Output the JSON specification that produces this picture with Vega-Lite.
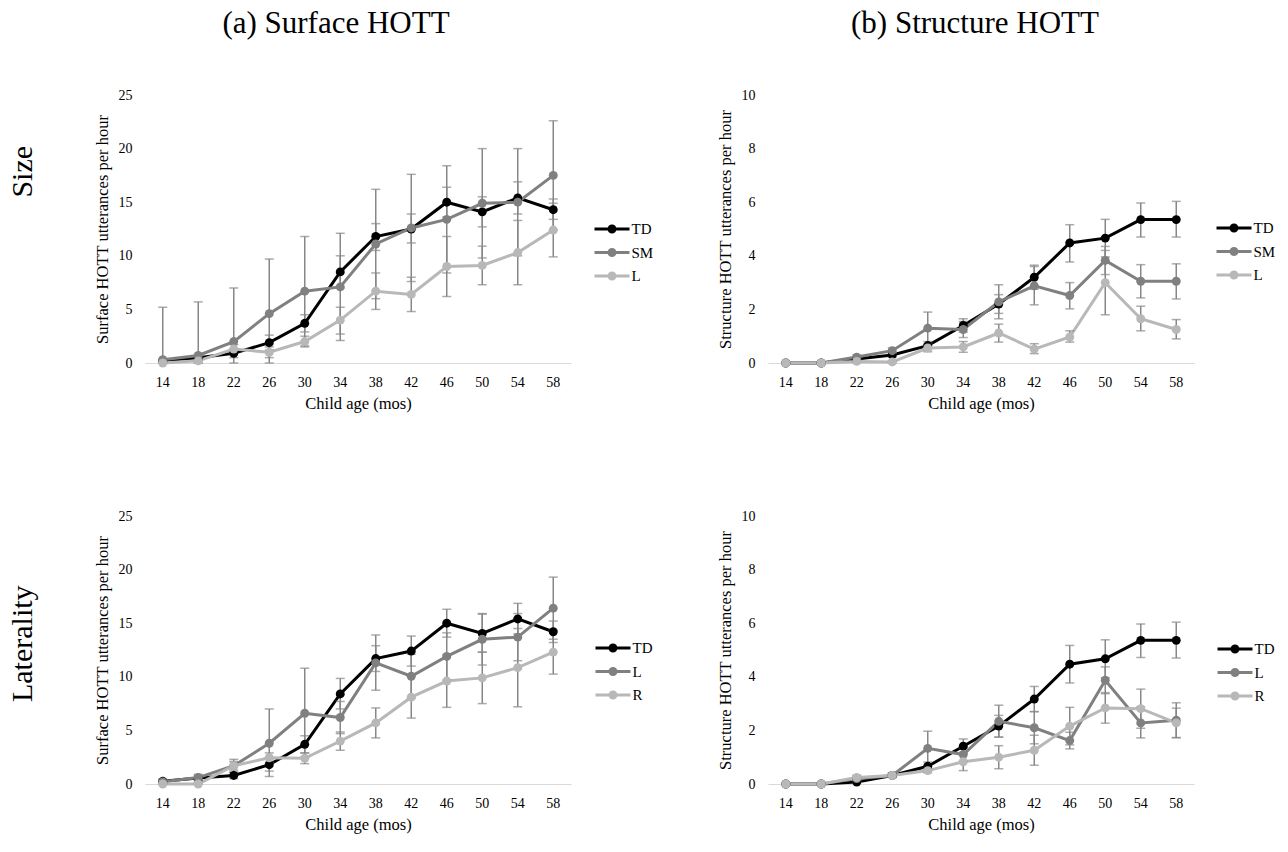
{
  "$schema": "https://vega.github.io/schema/vega-lite/v6.json",
  "padding": {"left": 8, "top": 8, "right": 5, "bottom": 5},
  "background": "white",
  "config": {
    "font": "Liberation Serif",
    "view": {"stroke": null},
    "axis": {"labelFont": "Liberation Serif", "titleFont": "Liberation Serif", "labelColor": "#000000", "titleColor": "#000000", "titleFontWeight": "normal", "grid": false, "ticks": false, "labelFontSize": 14, "titleFontSize": 16.5},
    "axisX": {"domainColor": "#d9d9d9", "domainWidth": 1, "labelAngle": 0, "labelPadding": 12, "titlePadding": 6},
    "axisY": {"domain": false, "labelPadding": 13, "titlePadding": 8},
    "legend": {"labelFont": "Liberation Serif", "labelFontSize": 15, "labelColor": "#000000", "symbolType": "M-1.75,-0.15H1.75V0.15H-1.75Z M0.45,0A0.45,0.45,0,1,1,-0.45,0A0.45,0.45,0,1,1,0.45,0Z", "symbolSize": 400, "symbolStrokeWidth": 0, "symbolOpacity": 1, "labelOffset": 9.5, "rowPadding": 5.5, "padding": 0},
    "title": {"font": "Liberation Serif", "fontWeight": "normal", "color": "#000000", "fontSize": 31}
  },
  "data": {"values": [
    {"panel":"A","group":"TD","age":14,"value":0.2,"lo":0.0,"hi":0.4},
    {"panel":"A","group":"TD","age":18,"value":0.5,"lo":0.2,"hi":0.8},
    {"panel":"A","group":"TD","age":22,"value":0.9,"lo":0.5,"hi":1.3},
    {"panel":"A","group":"TD","age":26,"value":1.9,"lo":1.2,"hi":2.6},
    {"panel":"A","group":"TD","age":30,"value":3.7,"lo":2.9,"hi":4.5},
    {"panel":"A","group":"TD","age":34,"value":8.5,"lo":7.0,"hi":10.0},
    {"panel":"A","group":"TD","age":38,"value":11.8,"lo":10.5,"hi":13.0},
    {"panel":"A","group":"TD","age":42,"value":12.5,"lo":11.2,"hi":13.9},
    {"panel":"A","group":"TD","age":46,"value":15.0,"lo":13.6,"hi":16.4},
    {"panel":"A","group":"TD","age":50,"value":14.1,"lo":12.7,"hi":15.5},
    {"panel":"A","group":"TD","age":54,"value":15.4,"lo":13.9,"hi":16.9},
    {"panel":"A","group":"TD","age":58,"value":14.3,"lo":13.4,"hi":15.3},
    {"panel":"A","group":"SM","age":14,"value":0.3,"lo":0,"hi":5.2},
    {"panel":"A","group":"SM","age":18,"value":0.7,"lo":0,"hi":5.7},
    {"panel":"A","group":"SM","age":22,"value":2.0,"lo":0,"hi":7.0},
    {"panel":"A","group":"SM","age":26,"value":4.6,"lo":0,"hi":9.7},
    {"panel":"A","group":"SM","age":30,"value":6.7,"lo":1.6,"hi":11.8},
    {"panel":"A","group":"SM","age":34,"value":7.1,"lo":2.1,"hi":12.1},
    {"panel":"A","group":"SM","age":38,"value":11.1,"lo":6.0,"hi":16.2},
    {"panel":"A","group":"SM","age":42,"value":12.6,"lo":7.6,"hi":17.6},
    {"panel":"A","group":"SM","age":46,"value":13.4,"lo":8.4,"hi":18.4},
    {"panel":"A","group":"SM","age":50,"value":14.9,"lo":9.8,"hi":20.0},
    {"panel":"A","group":"SM","age":54,"value":15.0,"lo":10.0,"hi":20.0},
    {"panel":"A","group":"SM","age":58,"value":17.5,"lo":12.4,"hi":22.6},
    {"panel":"A","group":"L","age":14,"value":0.0,"lo":0,"hi":0.2},
    {"panel":"A","group":"L","age":18,"value":0.2,"lo":0,"hi":0.5},
    {"panel":"A","group":"L","age":22,"value":1.3,"lo":0.9,"hi":1.7},
    {"panel":"A","group":"L","age":26,"value":1.0,"lo":0.5,"hi":1.5},
    {"panel":"A","group":"L","age":30,"value":2.0,"lo":1.5,"hi":2.5},
    {"panel":"A","group":"L","age":34,"value":4.0,"lo":2.7,"hi":5.2},
    {"panel":"A","group":"L","age":38,"value":6.7,"lo":5.0,"hi":8.4},
    {"panel":"A","group":"L","age":42,"value":6.4,"lo":4.8,"hi":8.0},
    {"panel":"A","group":"L","age":46,"value":9.0,"lo":6.2,"hi":11.8},
    {"panel":"A","group":"L","age":50,"value":9.1,"lo":7.3,"hi":10.9},
    {"panel":"A","group":"L","age":54,"value":10.3,"lo":7.3,"hi":13.3},
    {"panel":"A","group":"L","age":58,"value":12.4,"lo":9.9,"hi":14.9},

    {"panel":"B","group":"TD","age":14,"value":0.0,"lo":0,"hi":0.02},
    {"panel":"B","group":"TD","age":18,"value":0.0,"lo":0,"hi":0.02},
    {"panel":"B","group":"TD","age":22,"value":0.15,"lo":0.1,"hi":0.2},
    {"panel":"B","group":"TD","age":26,"value":0.3,"lo":0.22,"hi":0.38},
    {"panel":"B","group":"TD","age":30,"value":0.65,"lo":0.5,"hi":0.8},
    {"panel":"B","group":"TD","age":34,"value":1.4,"lo":1.15,"hi":1.65},
    {"panel":"B","group":"TD","age":38,"value":2.2,"lo":1.85,"hi":2.55},
    {"panel":"B","group":"TD","age":42,"value":3.2,"lo":2.75,"hi":3.65},
    {"panel":"B","group":"TD","age":46,"value":4.48,"lo":3.77,"hi":5.16},
    {"panel":"B","group":"TD","age":50,"value":4.66,"lo":3.96,"hi":5.36},
    {"panel":"B","group":"TD","age":54,"value":5.35,"lo":4.7,"hi":5.97},
    {"panel":"B","group":"TD","age":58,"value":5.35,"lo":4.7,"hi":6.03},
    {"panel":"B","group":"SM","age":14,"value":0.0,"lo":0,"hi":0.02},
    {"panel":"B","group":"SM","age":18,"value":0.0,"lo":0,"hi":0.02},
    {"panel":"B","group":"SM","age":22,"value":0.22,"lo":0.15,"hi":0.3},
    {"panel":"B","group":"SM","age":26,"value":0.46,"lo":0.36,"hi":0.56},
    {"panel":"B","group":"SM","age":30,"value":1.3,"lo":0.7,"hi":1.9},
    {"panel":"B","group":"SM","age":34,"value":1.25,"lo":0.95,"hi":1.55},
    {"panel":"B","group":"SM","age":38,"value":2.28,"lo":1.65,"hi":2.92},
    {"panel":"B","group":"SM","age":42,"value":2.88,"lo":2.17,"hi":3.6},
    {"panel":"B","group":"SM","age":46,"value":2.52,"lo":2.02,"hi":3.0},
    {"panel":"B","group":"SM","age":50,"value":3.83,"lo":3.3,"hi":4.35},
    {"panel":"B","group":"SM","age":54,"value":3.05,"lo":2.43,"hi":3.67},
    {"panel":"B","group":"SM","age":58,"value":3.05,"lo":2.39,"hi":3.7},
    {"panel":"B","group":"L","age":14,"value":0.0,"lo":0,"hi":0.01},
    {"panel":"B","group":"L","age":18,"value":0.0,"lo":0,"hi":0.01},
    {"panel":"B","group":"L","age":22,"value":0.06,"lo":0.02,"hi":0.1},
    {"panel":"B","group":"L","age":26,"value":0.04,"lo":0,"hi":0.08},
    {"panel":"B","group":"L","age":30,"value":0.56,"lo":0.42,"hi":0.7},
    {"panel":"B","group":"L","age":34,"value":0.6,"lo":0.4,"hi":0.8},
    {"panel":"B","group":"L","age":38,"value":1.12,"lo":0.78,"hi":1.45},
    {"panel":"B","group":"L","age":42,"value":0.52,"lo":0.35,"hi":0.72},
    {"panel":"B","group":"L","age":46,"value":0.97,"lo":0.78,"hi":1.2},
    {"panel":"B","group":"L","age":50,"value":3.0,"lo":1.8,"hi":4.2},
    {"panel":"B","group":"L","age":54,"value":1.65,"lo":1.2,"hi":2.12},
    {"panel":"B","group":"L","age":58,"value":1.25,"lo":0.9,"hi":1.62},

    {"panel":"C","group":"TD","age":14,"value":0.25,"lo":0.05,"hi":0.45},
    {"panel":"C","group":"TD","age":18,"value":0.55,"lo":0.3,"hi":0.8},
    {"panel":"C","group":"TD","age":22,"value":0.8,"lo":0.5,"hi":1.1},
    {"panel":"C","group":"TD","age":26,"value":1.8,"lo":1.2,"hi":2.4},
    {"panel":"C","group":"TD","age":30,"value":3.7,"lo":2.9,"hi":4.5},
    {"panel":"C","group":"TD","age":34,"value":8.4,"lo":7.0,"hi":9.85},
    {"panel":"C","group":"TD","age":38,"value":11.7,"lo":10.5,"hi":12.9},
    {"panel":"C","group":"TD","age":42,"value":12.4,"lo":11.0,"hi":13.8},
    {"panel":"C","group":"TD","age":46,"value":15.0,"lo":13.7,"hi":16.3},
    {"panel":"C","group":"TD","age":50,"value":14.05,"lo":12.3,"hi":15.85},
    {"panel":"C","group":"TD","age":54,"value":15.4,"lo":14.0,"hi":16.85},
    {"panel":"C","group":"TD","age":58,"value":14.2,"lo":13.2,"hi":15.2},
    {"panel":"C","group":"L","age":14,"value":0.2,"lo":0,"hi":0.4},
    {"panel":"C","group":"L","age":18,"value":0.6,"lo":0.3,"hi":0.9},
    {"panel":"C","group":"L","age":22,"value":1.7,"lo":1.1,"hi":2.3},
    {"panel":"C","group":"L","age":26,"value":3.8,"lo":0.7,"hi":7.0},
    {"panel":"C","group":"L","age":30,"value":6.6,"lo":2.5,"hi":10.8},
    {"panel":"C","group":"L","age":34,"value":6.2,"lo":4.7,"hi":7.7},
    {"panel":"C","group":"L","age":38,"value":11.3,"lo":8.75,"hi":13.9},
    {"panel":"C","group":"L","age":42,"value":10.05,"lo":8.0,"hi":12.1},
    {"panel":"C","group":"L","age":46,"value":11.9,"lo":9.7,"hi":14.1},
    {"panel":"C","group":"L","age":50,"value":13.5,"lo":11.1,"hi":15.9},
    {"panel":"C","group":"L","age":54,"value":13.7,"lo":11.5,"hi":15.9},
    {"panel":"C","group":"L","age":58,"value":16.4,"lo":13.5,"hi":19.3},
    {"panel":"C","group":"R","age":14,"value":0.0,"lo":0,"hi":0.1},
    {"panel":"C","group":"R","age":18,"value":0.0,"lo":0,"hi":0.1},
    {"panel":"C","group":"R","age":22,"value":1.7,"lo":1.3,"hi":2.1},
    {"panel":"C","group":"R","age":26,"value":2.45,"lo":2.0,"hi":2.9},
    {"panel":"C","group":"R","age":30,"value":2.4,"lo":1.9,"hi":2.9},
    {"panel":"C","group":"R","age":34,"value":4.0,"lo":3.15,"hi":4.85},
    {"panel":"C","group":"R","age":38,"value":5.7,"lo":4.3,"hi":7.1},
    {"panel":"C","group":"R","age":42,"value":8.1,"lo":6.15,"hi":10.05},
    {"panel":"C","group":"R","age":46,"value":9.6,"lo":7.15,"hi":12.05},
    {"panel":"C","group":"R","age":50,"value":9.9,"lo":7.5,"hi":12.3},
    {"panel":"C","group":"R","age":54,"value":10.85,"lo":7.2,"hi":14.5},
    {"panel":"C","group":"R","age":58,"value":12.3,"lo":10.25,"hi":14.35},

    {"panel":"D","group":"TD","age":14,"value":0.0,"lo":0,"hi":0.02},
    {"panel":"D","group":"TD","age":18,"value":0.0,"lo":0,"hi":0.02},
    {"panel":"D","group":"TD","age":22,"value":0.07,"lo":0.03,"hi":0.11},
    {"panel":"D","group":"TD","age":26,"value":0.32,"lo":0.25,"hi":0.4},
    {"panel":"D","group":"TD","age":30,"value":0.66,"lo":0.5,"hi":0.82},
    {"panel":"D","group":"TD","age":34,"value":1.41,"lo":1.14,"hi":1.68},
    {"panel":"D","group":"TD","age":38,"value":2.16,"lo":1.75,"hi":2.56},
    {"panel":"D","group":"TD","age":42,"value":3.17,"lo":2.7,"hi":3.64},
    {"panel":"D","group":"TD","age":46,"value":4.47,"lo":3.77,"hi":5.17},
    {"panel":"D","group":"TD","age":50,"value":4.67,"lo":3.97,"hi":5.38},
    {"panel":"D","group":"TD","age":54,"value":5.36,"lo":4.72,"hi":5.97},
    {"panel":"D","group":"TD","age":58,"value":5.36,"lo":4.7,"hi":6.04},
    {"panel":"D","group":"L","age":14,"value":0.0,"lo":0,"hi":0.02},
    {"panel":"D","group":"L","age":18,"value":0.0,"lo":0,"hi":0.02},
    {"panel":"D","group":"L","age":22,"value":0.2,"lo":0.12,"hi":0.28},
    {"panel":"D","group":"L","age":26,"value":0.32,"lo":0.25,"hi":0.4},
    {"panel":"D","group":"L","age":30,"value":1.33,"lo":0.7,"hi":1.97},
    {"panel":"D","group":"L","age":34,"value":1.1,"lo":0.85,"hi":1.35},
    {"panel":"D","group":"L","age":38,"value":2.34,"lo":1.75,"hi":2.94},
    {"panel":"D","group":"L","age":42,"value":2.1,"lo":1.5,"hi":2.7},
    {"panel":"D","group":"L","age":46,"value":1.62,"lo":1.31,"hi":1.93},
    {"panel":"D","group":"L","age":50,"value":3.87,"lo":3.37,"hi":4.37},
    {"panel":"D","group":"L","age":54,"value":2.28,"lo":1.72,"hi":2.88},
    {"panel":"D","group":"L","age":58,"value":2.38,"lo":1.73,"hi":3.03},
    {"panel":"D","group":"R","age":14,"value":0.0,"lo":0,"hi":0.01},
    {"panel":"D","group":"R","age":18,"value":0.0,"lo":0,"hi":0.01},
    {"panel":"D","group":"R","age":22,"value":0.24,"lo":0.15,"hi":0.33},
    {"panel":"D","group":"R","age":26,"value":0.32,"lo":0.25,"hi":0.4},
    {"panel":"D","group":"R","age":30,"value":0.5,"lo":0.42,"hi":0.58},
    {"panel":"D","group":"R","age":34,"value":0.83,"lo":0.5,"hi":1.16},
    {"panel":"D","group":"R","age":38,"value":1.0,"lo":0.57,"hi":1.43},
    {"panel":"D","group":"R","age":42,"value":1.26,"lo":0.7,"hi":1.82},
    {"panel":"D","group":"R","age":46,"value":2.16,"lo":1.46,"hi":2.86},
    {"panel":"D","group":"R","age":50,"value":2.84,"lo":2.27,"hi":3.41},
    {"panel":"D","group":"R","age":54,"value":2.81,"lo":2.08,"hi":3.54},
    {"panel":"D","group":"R","age":58,"value":2.28,"lo":1.73,"hi":2.83}
  ]},
  "spacing": 97,
  "resolve": {"scale": {"color": "independent", "stroke": "independent"}, "legend": {"color": "independent", "stroke": "independent"}},
  "vconcat": [
    {
      "title": {"text": "Size", "orient": "left", "anchor": "middle", "frame": "bounds", "fontSize": 30, "offset": 56, "dx": 38},
      "bounds": "flush",
      "spacing": 197,
      "resolve": {"scale": {"color": "independent", "stroke": "independent"}, "legend": {"color": "independent", "stroke": "independent"}},
      "hconcat": [
        {
          "width": 426, "height": 268,
          "title": {"text": "(a) Surface HOTT", "anchor": "middle", "offset": 48, "dx": -22},
          "transform": [{"filter": "datum.panel === 'A'"}],
          "encoding": {"x": {"field": "age", "type": "ordinal", "title": "Child age (mos)"}},
          "layer": [
            {"mark": {"type": "line", "strokeWidth": 3}, "encoding": {"y": {"field": "value", "type": "quantitative", "title": "Surface HOTT utterances per hour", "scale": {"domain": [0, 25], "nice": false}, "axis": {"values": [0, 5, 10, 15, 20, 25]}}, "stroke": {"field": "group", "type": "nominal", "scale": {"domain": ["TD", "SM", "L"], "range": ["#000000", "#808080", "#b8b8b8"]}, "legend": {"title": null, "orient": "none", "legendX": 457, "legendY": 124, "labelFont": "Liberation Serif", "labelFontSize": 15}}}},
            {"mark": {"type": "errorbar", "ticks": {"size": 9}, "thickness": 1.5, "color": "#878787"}, "encoding": {"y": {"field": "lo", "type": "quantitative", "title": "Surface HOTT utterances per hour"}, "y2": {"field": "hi"}}},
            {"mark": {"type": "point", "filled": true, "size": 80, "opacity": 1}, "encoding": {"y": {"field": "value", "type": "quantitative", "title": "Surface HOTT utterances per hour"}, "color": {"field": "group", "type": "nominal", "scale": {"domain": ["TD", "SM", "L"], "range": ["#000000", "#808080", "#b8b8b8"]}, "legend": {"title": null, "orient": "none", "legendX": 457, "legendY": 124, "labelFont": "Liberation Serif", "labelFontSize": 15}}}}
          ]
        },
        {
          "width": 426, "height": 268,
          "title": {"text": "(b) Structure HOTT", "anchor": "middle", "offset": 48, "dx": -6},
          "transform": [{"filter": "datum.panel === 'B'"}],
          "encoding": {"x": {"field": "age", "type": "ordinal", "title": "Child age (mos)"}},
          "layer": [
            {"mark": {"type": "line", "strokeWidth": 3}, "encoding": {"y": {"field": "value", "type": "quantitative", "title": "Structure HOTT utterances per hour", "scale": {"domain": [0, 10], "nice": false}, "axis": {"values": [0, 2, 4, 6, 8, 10]}}, "stroke": {"field": "group", "type": "nominal", "scale": {"domain": ["TD", "SM", "L"], "range": ["#000000", "#808080", "#b8b8b8"]}, "legend": {"title": null, "orient": "none", "legendX": 456, "legendY": 123, "labelFont": "Liberation Serif", "labelFontSize": 15}}}},
            {"mark": {"type": "errorbar", "ticks": {"size": 9}, "thickness": 1.5, "color": "#878787"}, "encoding": {"y": {"field": "lo", "type": "quantitative", "title": "Structure HOTT utterances per hour"}, "y2": {"field": "hi"}}},
            {"mark": {"type": "point", "filled": true, "size": 80, "opacity": 1}, "encoding": {"y": {"field": "value", "type": "quantitative", "title": "Structure HOTT utterances per hour"}, "color": {"field": "group", "type": "nominal", "scale": {"domain": ["TD", "SM", "L"], "range": ["#000000", "#808080", "#b8b8b8"]}, "legend": {"title": null, "orient": "none", "legendX": 456, "legendY": 123, "labelFont": "Liberation Serif", "labelFontSize": 15}}}}
          ]
        }
      ]
    },
    {
      "title": {"text": "Laterality", "orient": "left", "anchor": "middle", "frame": "bounds", "fontSize": 30, "offset": 56, "dx": 27},
      "bounds": "flush",
      "spacing": 197,
      "resolve": {"scale": {"color": "independent", "stroke": "independent"}, "legend": {"color": "independent", "stroke": "independent"}},
      "hconcat": [
        {
          "width": 426, "height": 268,
          "transform": [{"filter": "datum.panel === 'C'"}],
          "encoding": {"x": {"field": "age", "type": "ordinal", "title": "Child age (mos)"}},
          "layer": [
            {"mark": {"type": "line", "strokeWidth": 3}, "encoding": {"y": {"field": "value", "type": "quantitative", "title": "Surface HOTT utterances per hour", "scale": {"domain": [0, 25], "nice": false}, "axis": {"values": [0, 5, 10, 15, 20, 25]}}, "stroke": {"field": "group", "type": "nominal", "scale": {"domain": ["TD", "L", "R"], "range": ["#000000", "#808080", "#b8b8b8"]}, "legend": {"title": null, "orient": "none", "legendX": 458, "legendY": 122, "labelFont": "Liberation Serif", "labelFontSize": 15}}}},
            {"mark": {"type": "errorbar", "ticks": {"size": 9}, "thickness": 1.5, "color": "#878787"}, "encoding": {"y": {"field": "lo", "type": "quantitative", "title": "Surface HOTT utterances per hour"}, "y2": {"field": "hi"}}},
            {"mark": {"type": "point", "filled": true, "size": 80, "opacity": 1}, "encoding": {"y": {"field": "value", "type": "quantitative", "title": "Surface HOTT utterances per hour"}, "color": {"field": "group", "type": "nominal", "scale": {"domain": ["TD", "L", "R"], "range": ["#000000", "#808080", "#b8b8b8"]}, "legend": {"title": null, "orient": "none", "legendX": 458, "legendY": 122, "labelFont": "Liberation Serif", "labelFontSize": 15}}}}
          ]
        },
        {
          "width": 426, "height": 268,
          "transform": [{"filter": "datum.panel === 'D'"}],
          "encoding": {"x": {"field": "age", "type": "ordinal", "title": "Child age (mos)"}},
          "layer": [
            {"mark": {"type": "line", "strokeWidth": 3}, "encoding": {"y": {"field": "value", "type": "quantitative", "title": "Structure  HOTT utterances per hour", "scale": {"domain": [0, 10], "nice": false}, "axis": {"values": [0, 2, 4, 6, 8, 10]}}, "stroke": {"field": "group", "type": "nominal", "scale": {"domain": ["TD", "L", "R"], "range": ["#000000", "#808080", "#b8b8b8"]}, "legend": {"title": null, "orient": "none", "legendX": 457, "legendY": 123, "labelFont": "Liberation Serif", "labelFontSize": 15}}}},
            {"mark": {"type": "errorbar", "ticks": {"size": 9}, "thickness": 1.5, "color": "#878787"}, "encoding": {"y": {"field": "lo", "type": "quantitative", "title": "Structure  HOTT utterances per hour"}, "y2": {"field": "hi"}}},
            {"mark": {"type": "point", "filled": true, "size": 80, "opacity": 1}, "encoding": {"y": {"field": "value", "type": "quantitative", "title": "Structure  HOTT utterances per hour"}, "color": {"field": "group", "type": "nominal", "scale": {"domain": ["TD", "L", "R"], "range": ["#000000", "#808080", "#b8b8b8"]}, "legend": {"title": null, "orient": "none", "legendX": 457, "legendY": 123, "labelFont": "Liberation Serif", "labelFontSize": 15}}}}
          ]
        }
      ]
    }
  ]
}
